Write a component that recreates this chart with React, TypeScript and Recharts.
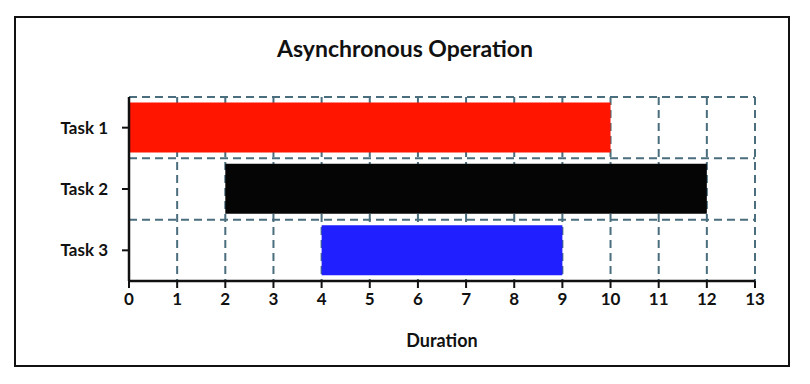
import React from 'react';
import { BarChart, Bar, XAxis, YAxis, CartesianGrid, Cell } from 'recharts';

const tasks = ['Task 1', 'Task 2', 'Task 3'];
const starts = [0, 2, 4];
const ends = [10, 12, 9];
const colors = ['#ff1500', '#050505', '#1f1fff'];
const xTicks = [0, 1, 2, 3, 4, 5, 6, 7, 8, 9, 10, 11, 12, 13];

const data = tasks.map((t, i) => ({ task: t, start: starts[i], duration: ends[i] - starts[i] }));

const FONT = 'Lato, "Open Sans", sans-serif';
const GRID = '#4a6e7e';

export default function App() {
  return (
    <div style={{ position: 'absolute', left: 0, top: 0, width: 810, height: 384, background: '#fff', fontFamily: FONT }}>
      <div style={{ position: 'absolute', left: 14, top: 16, width: 772, height: 347, border: '2px solid #111' }} />
      <div style={{ position: 'absolute', left: 0, top: 34, width: 810, textAlign: 'center', fontSize: 23, fontWeight: 700, color: '#111' }}>
        Asynchronous Operation
      </div>
      <div style={{ position: 'absolute', left: 0, top: 0 }}>
        <BarChart
          width={810}
          height={384}
          layout="vertical"
          data={data}
          margin={{ top: 97, right: 55, bottom: 43, left: 49 }}
          barCategoryGap="9%"
        >
          <CartesianGrid
            stroke={GRID}
            strokeWidth={2}
            strokeDasharray="8 5"
            horizontalCoordinatesGenerator={({ offset }: any) =>
              [0, 1, 2].map((i) => offset.top + (i * offset.height) / tasks.length)
            }
          />
          <XAxis
            type="number"
            domain={[0, 13]}
            ticks={xTicks}
            interval={0}
            height={60}
            axisLine={{ stroke: '#111', strokeWidth: 2.5 }}
            tickLine={{ stroke: '#111', strokeWidth: 2 }}
            tickSize={7}
            tickMargin={5}
            tick={{ fill: '#111', fontSize: 17, fontWeight: 700, fontFamily: FONT }}
            label={{ value: 'Duration', position: 'insideBottom', offset: -6, fill: '#111', fontSize: 18, fontWeight: 700, fontFamily: FONT }}
          />
          <YAxis
            type="category"
            dataKey="task"
            width={80}
            axisLine={{ stroke: '#111', strokeWidth: 2.5 }}
            tickLine={{ stroke: '#111', strokeWidth: 2 }}
            tickSize={7}
            tickMargin={14}
            tick={{ fill: '#111', fontSize: 17, fontWeight: 700, fontFamily: FONT }}
          />
          <Bar dataKey="start" stackId="a" fill="transparent" isAnimationActive={false} />
          <Bar dataKey="duration" stackId="a" isAnimationActive={false}>
            {data.map((d, i) => (
              <Cell key={d.task} fill={colors[i]} />
            ))}
          </Bar>
        </BarChart>
      </div>
    </div>
  );
}
